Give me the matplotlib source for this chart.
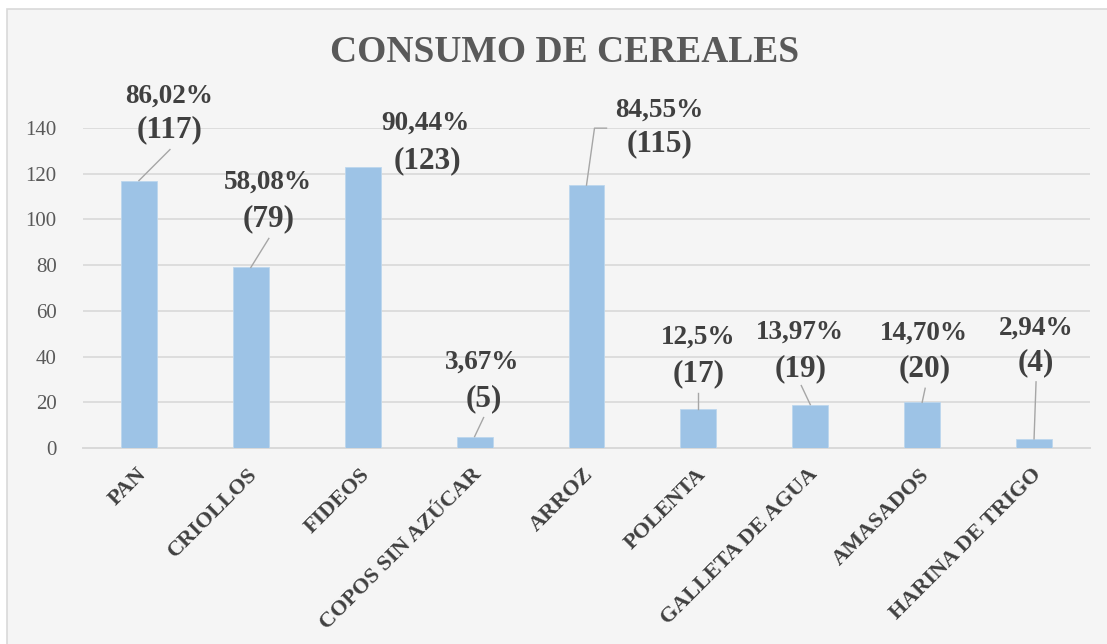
import matplotlib
matplotlib.use("Agg")
import matplotlib.pyplot as plt
import matplotlib.transforms as mtransforms
from matplotlib.patches import Rectangle

# ---- data ----
categories = ["PAN", "CRIOLLOS", "FIDEOS", "COPOS SIN AZÚCAR", "ARROZ",
              "POLENTA", "GALLETA DE AGUA", "AMASADOS", "HARINA DE TRIGO"]
values = [117, 79, 123, 5, 115, 17, 19, 20, 4]
pct_labels = ["86,02%", "58,08%", "90,44%", "3,67%", "84,55%",
              "12,5%", "13,97%", "14,70%", "2,94%"]
y_ticks = [0, 20, 40, 60, 80, 100, 120, 140]
title = "CONSUMO DE CEREALES"

# ---- layout (pixel offsets from each bar's top centre, screen-down positive) ----
line1_off = [(30, -84), (17, -85), (63, -44), (8, -74), (73, -75),
             (0, -72), (-10, -72), (2, -69), (2, -111)]
line2_off = [(31, -51), (18, -49), (65, -6), (9, -38), (73, -41),
             (0, -35), (-10, -36), (3, -34), (2, -76)]
leaders = [[(31, -31), (0, 0)], [(18, -29), (0, 0)], None, [(9, -19), (0, 0)],
           [(20, -57), (8, -57), (0, 0)], [(0, -16), (0, 0)],
           [(-9, -19), (0, 0)], [(3, -14), (0, 0)], [(2, -57), (0, 0)]]

W, H = 1107, 644
fig = plt.figure(figsize=(W / 100, H / 100), dpi=100, facecolor="white")

# chart area background frame
fig.patches.append(Rectangle((7 / W, -0.05), 1.2, (H - 9) / H + 0.05,
                             transform=fig.transFigure, facecolor="#F5F5F5",
                             edgecolor="#D9D9D9", linewidth=1.2, zorder=-10))

ax = fig.add_axes([83 / W, 1 - 448 / H, (1090 - 83) / W, (448 - 128) / H])
ax.set_zorder(2)
ax.patch.set_visible(False)
serif = ["Liberation Serif", "DejaVu Serif"]

x = list(range(len(categories)))
ax.bar(x, values, width=0.32, color="#9DC3E6", edgecolor="#BDD7EE",
       linewidth=0.6, zorder=3)

ax.set_xlim(-0.5, len(categories) - 0.5)
ax.set_ylim(0, 140)
ax.set_yticks(y_ticks)
ax.set_yticklabels([str(t) for t in y_ticks], family=serif, fontsize=15,
                   color="#595959")
ax.yaxis.grid(True, color="#D9D9D9", linewidth=1.2, zorder=0)
ax.set_axisbelow(True)
for s in ["top", "right", "left"]:
    ax.spines[s].set_visible(False)
ax.spines["bottom"].set_color("#D9D9D9")
ax.spines["bottom"].set_linewidth(1.4)
ax.tick_params(axis="y", length=0, pad=19)
ax.tick_params(axis="x", length=0, pad=12)
ax.set_xticks(x)
ax.set_xticklabels(categories, family=serif, fontsize=16, fontweight="bold",
                   color="#404040", rotation=45, ha="right", va="top",
                   rotation_mode="anchor")
shift = mtransforms.ScaledTranslation(-3 / 100, 0, fig.dpi_scale_trans)
for lab in ax.get_xticklabels():
    lab.set_transform(lab.get_transform() + shift)

for i, v in enumerate(values):
    (a1, b1) = line1_off[i]
    (a2, b2) = line2_off[i]
    t1 = mtransforms.offset_copy(ax.transData, fig=fig, x=a1, y=-b1, units="dots")
    t2 = mtransforms.offset_copy(ax.transData, fig=fig, x=a2, y=-b2, units="dots")
    ax.text(i, v, pct_labels[i], transform=t1, ha="center", va="center",
            family=serif, fontsize=19.5, fontweight="bold", color="#404040",
            clip_on=False, zorder=5)
    ax.text(i, v, f"({v})", transform=t2, ha="center", va="center",
            family=serif, fontsize=22.5, fontweight="bold", color="#404040",
            clip_on=False, zorder=5)
    if leaders[i]:
        pts = leaders[i]
        disp = ax.transData.transform((i, v))
        xs = [disp[0] + p[0] for p in pts]
        ys = [disp[1] - p[1] for p in pts]
        inv = ax.transData.inverted()
        dpts = inv.transform(list(zip(xs, ys)))
        ax.plot(dpts[:, 0], dpts[:, 1], color="#A6A6A6", linewidth=1.0,
                clip_on=False, zorder=4)

fig.text(565 / W, 1 - 53 / H, title, ha="center", va="center", family=serif,
         fontsize=27, fontweight="bold", color="#595959")

fig.savefig("out.png", dpi=100, facecolor="white")
